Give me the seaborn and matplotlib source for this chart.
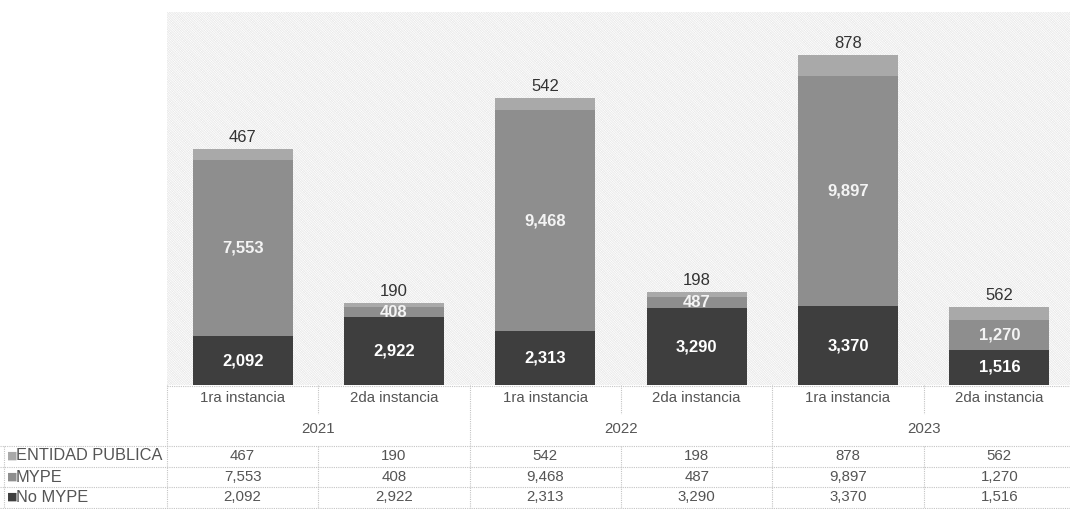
import matplotlib
matplotlib.use("Agg")
import matplotlib.pyplot as plt
import matplotlib.transforms as mtransforms
from matplotlib.patches import Rectangle
import seaborn as sns
import pandas as pd
import numpy as np

# ---- data ----
years = ["2021", "2022", "2023"]
instances = ["1ra instancia", "2da instancia"]
entidad_publica = [467, 190, 542, 198, 878, 562]
mype = [7553, 408, 9468, 487, 9897, 1270]
no_mype = [2092, 2922, 2313, 3290, 3370, 1516]
series_names = ["ENTIDAD PUBLICA", "MYPE", "No MYPE"]

keys = [f"{y}-{i}" for y in years for i in instances]
cat_labels = [i for y in years for i in instances]
df = pd.DataFrame({
    "key": keys,
    "ent": entidad_publica,
    "mype": mype,
    "nomype": no_mype,
})
df["c_nomype"] = df["nomype"]
df["c_mype"] = df["nomype"] + df["mype"]
df["c_total"] = df["c_mype"] + df["ent"]

col_ent = "#a9a9a9"
col_mype = "#8e8e8e"
col_no = "#3e3e3e"
txt_col = "#555555"

sns.set_theme(style="white")
plt.rcParams["font.family"] = ["Liberation Sans", "DejaVu Sans"]
plt.rcParams["hatch.linewidth"] = 0.5

W, H = 1070, 509
fig = plt.figure(figsize=(W / 100, H / 100), dpi=100)
x0, x1, yb, yt = 167, 1075, 385, 12
ax = fig.add_axes([x0 / W, 1 - yb / H, (x1 - x0) / W, (yb - yt) / H])

# hatched background
ax.add_patch(Rectangle((0, 0), 1, 1, transform=ax.transAxes, facecolor="white",
                       edgecolor="#e2e2e2", hatch="\\" * 14, lw=0, zorder=0))
ax.add_patch(Rectangle((0, 0), 1, 1, transform=ax.transAxes, facecolor="none",
                       edgecolor="#f2f2f2", hatch="/" * 8, lw=0, zorder=0.1))

bw = 0.66
sns.barplot(data=df, x="key", y="c_total", order=keys, color=col_ent, saturation=1,
            width=bw, errorbar=None, ax=ax, zorder=2, linewidth=0)
sns.barplot(data=df, x="key", y="c_mype", order=keys, color=col_mype, saturation=1,
            width=bw, errorbar=None, ax=ax, zorder=3, linewidth=0)
sns.barplot(data=df, x="key", y="c_nomype", order=keys, color=col_no, saturation=1,
            width=bw, errorbar=None, ax=ax, zorder=4, linewidth=0)

ax.set_xlim(-0.5, len(keys) - 0.5)
ax.set_ylim(0, 16000)
ax.set_xlabel("")
ax.set_ylabel("")
ax.set_xticks([])
ax.set_yticks([])
for s in ax.spines.values():
    s.set_visible(False)

# bar labels
for i, r in df.iterrows():
    ax.text(i, r["nomype"] / 2, f"{r['nomype']:,}", ha="center", va="center",
            color="white", fontsize=12, fontweight="bold", zorder=5)
    ax.text(i, r["nomype"] + r["mype"] / 2, f"{r['mype']:,}", ha="center", va="center",
            color="#f4f4f4", fontsize=12, fontweight="bold", zorder=5)
    ax.annotate(f"{r['ent']:,}", (i, r["c_total"]), xytext=(0, 3), textcoords="offset points",
                ha="center", va="bottom", color="#333333", fontsize=12, zorder=5)

# ---- data table ----
tr = mtransforms.blended_transform_factory(ax.transData, fig.transFigure)
def fy(py):
    return 1 - py / H

line_kw = dict(color="#c4c4c4", lw=0.8, ls=(0, (1, 1)), clip_on=False)

for i, lab in enumerate(cat_labels):
    fig.text(i, fy(398), lab, transform=tr, ha="center", va="center", color=txt_col, fontsize=10.8)
for j, yr in enumerate(years):
    fig.text(2 * j + 0.5, fy(429), yr, transform=tr, ha="center", va="center", color=txt_col, fontsize=10.8)

row_y = [456, 477, 497]
row_vals = [entidad_publica, mype, no_mype]
row_cols = [col_ent, col_mype, col_no]
for name, yy, vals, c in zip(series_names, row_y, row_vals, row_cols):
    fig.text(7 / W, fy(yy), "■", color=c, ha="left", va="center", fontsize=8,
             family="DejaVu Sans")
    fig.text(16 / W, fy(yy), name, ha="left", va="center", color=txt_col, fontsize=11.8)
    for i, v in enumerate(vals):
        fig.text(i, fy(yy), f"{v:,}", transform=tr, ha="center", va="center", color=txt_col, fontsize=10.8)

fig_line_tr = fig.transFigure
for py in [446, 467, 487, 508]:
    fig.add_artist(plt.Line2D([0, 1], [fy(py), fy(py)], transform=fig_line_tr, **line_kw))
fig.add_artist(plt.Line2D([4 / W, 4 / W], [fy(446), fy(508)], transform=fig_line_tr, **line_kw))
fig.add_artist(plt.Line2D([-0.5, -0.5], [fy(385), fy(508)], transform=tr, **line_kw))
for xs in [1.5, 3.5]:
    fig.add_artist(plt.Line2D([xs, xs], [fy(385), fy(508)], transform=tr, **line_kw))
for xs in [0.5, 2.5, 4.5]:
    fig.add_artist(plt.Line2D([xs, xs], [fy(385), fy(414)], transform=tr, **line_kw))
    fig.add_artist(plt.Line2D([xs, xs], [fy(446), fy(508)], transform=tr, **line_kw))
fig.add_artist(plt.Line2D([x0 / W, 1], [fy(385.5), fy(385.5)], transform=fig_line_tr, **line_kw))

fig.savefig("out.png", dpi=100, facecolor="white")
